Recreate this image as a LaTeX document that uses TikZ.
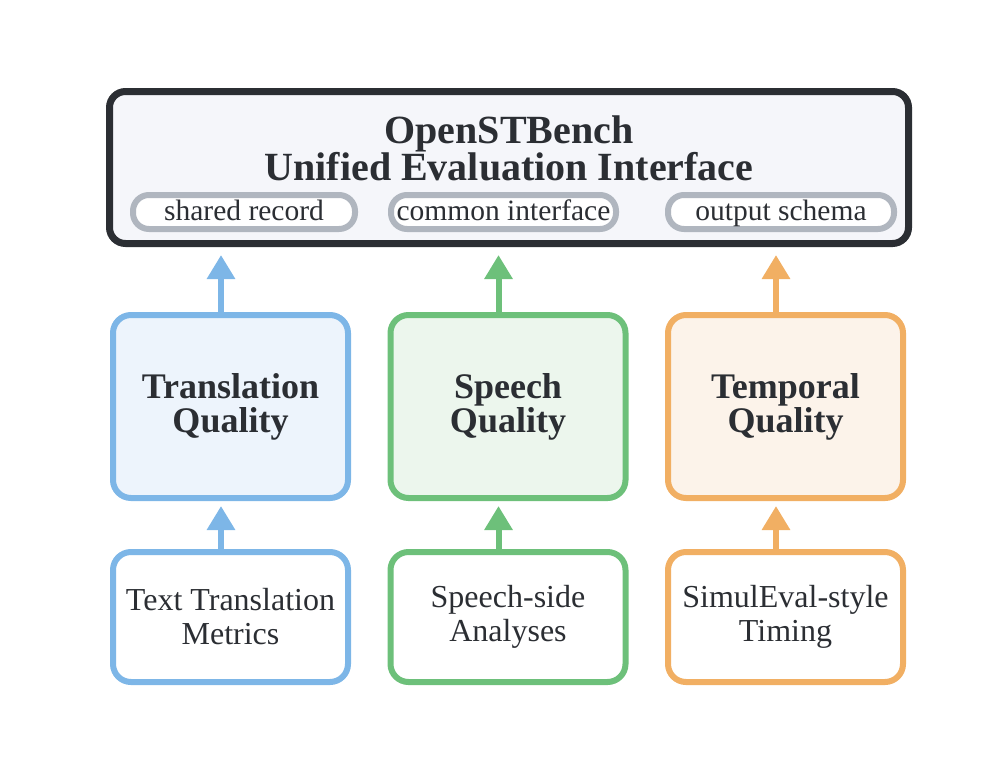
\documentclass[tikz,border=0pt]{standalone}
\usepackage{fontspec}
\setmainfont{Liberation Serif}
\usetikzlibrary{arrows.meta,positioning}

\definecolor{inkdark}{HTML}{2B2E33}
\definecolor{hubfill}{HTML}{F5F6FA}
\definecolor{chipgray}{HTML}{B0B6BF}
\definecolor{transblue}{HTML}{7DB6E7}
\definecolor{transfill}{HTML}{EDF4FC}
\definecolor{speechgreen}{HTML}{6DC07A}
\definecolor{speechfill}{HTML}{ECF6ED}
\definecolor{tempoorange}{HTML}{F1AF63}
\definecolor{tempofill}{HTML}{FCF3EA}

\begin{document}
\begin{tikzpicture}[x=1pt,y=-1pt,text=inkdark,
    hub/.style={draw=inkdark,line width=7pt,fill=hubfill,rounded corners=16pt,
        minimum width=799pt,minimum height=152pt,inner sep=0pt},
    chip/.style={draw=chipgray,line width=6pt,fill=white,rounded corners=16pt,
        minimum height=34pt,inner sep=2pt,text height=21pt,text depth=5pt,
        font=\fontsize{29.5}{32}\selectfont},
    qual/.style={line width=6pt,rounded corners=18pt,minimum width=235pt,
        minimum height=183pt,align=center,font=\fontsize{36}{34}\selectfont\bfseries},
    src/.style={line width=6pt,fill=white,rounded corners=18pt,minimum width=235pt,
        minimum height=130pt,align=center,font=\fontsize{32}{34}\selectfont},
    up/.style={line width=6pt,-{Triangle[length=24pt,width=27pt]}}]

    \useasboundingbox (0,0) rectangle (998,772);

    % Unified interface on top
    \node [hub] (hub) at (509,167.5) {};
    \node [align=center,font=\fontsize{40}{37}\selectfont\bfseries] (title) at (509,148)
        {OpenSTBench\\Unified Evaluation Interface};
    \node [chip,minimum width=222pt] (record) at (244,212) {shared record};
    \node [chip,minimum width=225pt] (common) at (503.5,212) {common interface};
    \node [chip,minimum width=226pt] (schema) at (781,212) {output schema};

    % Quality dimensions
    \node [qual,draw=transblue,fill=transfill] (tq) at (230.5,406.5) {Translation\\Quality};
    \node [qual,draw=speechgreen,fill=speechfill] (sq) at (508,406.5) {Speech\\Quality};
    \node [qual,draw=tempoorange,fill=tempofill] (pq) at (785.5,406.5) {Temporal\\Quality};

    % Sources
    \node [src,draw=transblue] (tm) at (230.5,617) {Text Translation\\Metrics};
    \node [src,draw=speechgreen] (sa) at (508,617) {Speech-side\\Analyses};
    \node [src,draw=tempoorange] (st) at (785.5,617) {SimulEval-style\\Timing};

    % Arrows into the interface
    \draw [up,transblue,shorten >=8pt] ([xshift=-9.5pt]tq.north) -- ([xshift=-9.5pt]tq.north |- hub.south);
    \draw [up,speechgreen,shorten >=8pt] ([xshift=-9.5pt]sq.north) -- ([xshift=-9.5pt]sq.north |- hub.south);
    \draw [up,tempoorange,shorten >=8pt] ([xshift=-9.5pt]pq.north) -- ([xshift=-9.5pt]pq.north |- hub.south);

    % Arrows from sources
    \draw [up,transblue,shorten >=5pt] ([xshift=-9.5pt]tm.north) -- ([xshift=-9.5pt]tq.south);
    \draw [up,speechgreen,shorten >=5pt] ([xshift=-9.5pt]sa.north) -- ([xshift=-9.5pt]sq.south);
    \draw [up,tempoorange,shorten >=5pt] ([xshift=-9.5pt]st.north) -- ([xshift=-9.5pt]pq.south);

\end{tikzpicture}
\end{document}
